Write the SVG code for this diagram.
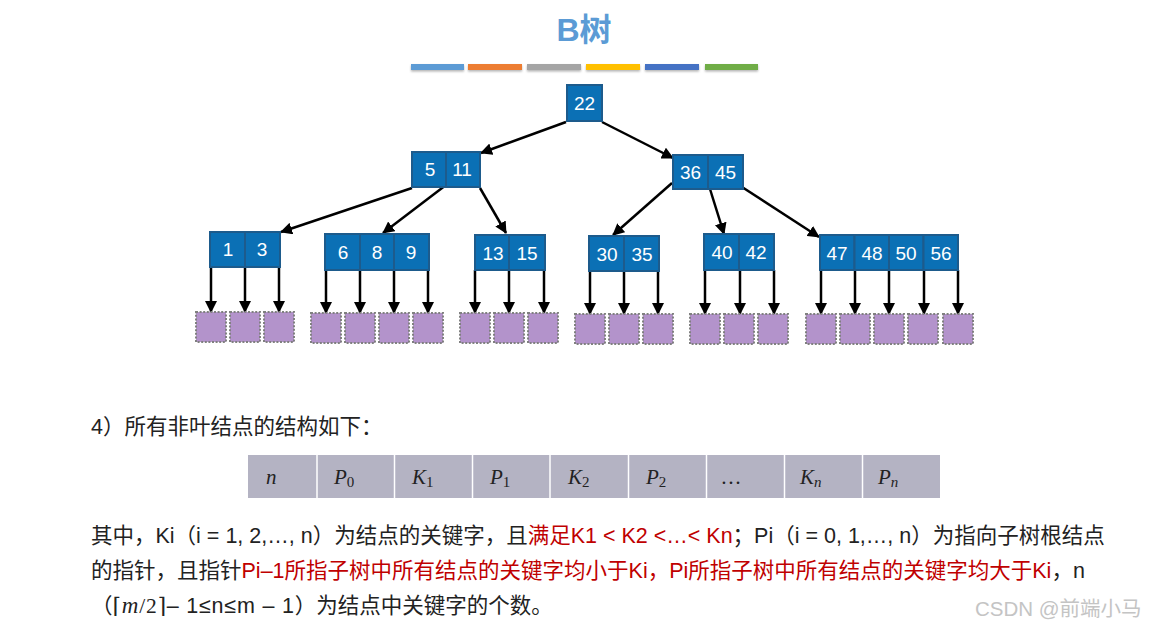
<svg xmlns="http://www.w3.org/2000/svg" width="1151" height="630" viewBox="0 0 1151 630">
<style>
.k{fill:#0b70b5;stroke:#1d5b8c;stroke-width:2}
.kt{font-family:"Liberation Sans",Arial,sans-serif;font-size:19px;fill:#fff;text-anchor:middle}
.leaf{fill:#b393cb;stroke:#808080;stroke-width:2;stroke-dasharray:2 1.6}
.e{stroke:#000;stroke-width:2.5;fill:none;marker-end:url(#ah)}
.body{font-family:"Liberation Sans","Noto Sans CJK SC",sans-serif;font-size:21.5px;fill:#222}
.red{fill:#c00000}
.cell{fill:#b4b3c3}
.sep{stroke:#fff;stroke-width:1.5}
.mt{font-family:"Liberation Serif","Times New Roman",serif;font-style:italic;font-size:21px;fill:#222}
.sub{font-style:normal;font-size:15px}
.subi{font-size:15px}
</style>
<defs>
<marker id="ah" markerUnits="userSpaceOnUse" markerWidth="12" markerHeight="12" viewBox="0 0 12 12" refX="11" refY="6" orient="auto">
<path d="M0,0 L12,6 L0,12 z" fill="#000"/>
</marker>
<filter id="sh" x="-5%" y="-50%" width="110%" height="250%">
<feDropShadow dx="0" dy="1.5" stdDeviation="1" flood-color="#000" flood-opacity="0.3"/>
</filter>
</defs>
<rect width="1151" height="630" fill="#fff"/>

<g id="title">
<text x="584" y="41" text-anchor="middle" font-family="Liberation Sans,'Noto Sans CJK SC',sans-serif" font-weight="bold" font-size="32" fill="#5b9bd5">B树</text>
<g filter="url(#sh)">
<rect x="411" y="64" width="53" height="6" fill="#5b9bd5"/>
<rect x="468" y="64" width="54" height="6" fill="#ed7d31"/>
<rect x="527" y="64" width="54" height="6" fill="#a5a5a5"/>
<rect x="586" y="64" width="54" height="6" fill="#ffc000"/>
<rect x="645" y="64" width="54" height="6" fill="#4472c4"/>
<rect x="705" y="64" width="53" height="6" fill="#70ad47"/>
</g>
</g>

<g id="connectors">
<line class="e" x1="566" y1="122" x2="481" y2="153"/>
<line class="e" x1="602" y1="122" x2="673" y2="158"/>
<line class="e" x1="412" y1="188" x2="281" y2="232"/>
<line class="e" x1="446" y1="185" x2="383" y2="233"/>
<line class="e" x1="480" y1="188" x2="506" y2="233"/>
<line class="e" x1="672" y1="183" x2="613" y2="235"/>
<line class="e" x1="710" y1="189" x2="724" y2="234"/>
<line class="e" x1="742" y1="187" x2="819" y2="237"/>
<line class="e" x1="211" y1="267" x2="211" y2="312"/>
<line class="e" x1="245" y1="267" x2="245" y2="312"/>
<line class="e" x1="279" y1="267" x2="279" y2="312"/>
<line class="e" x1="326" y1="270" x2="326" y2="313"/>
<line class="e" x1="360" y1="270" x2="360" y2="313"/>
<line class="e" x1="394" y1="270" x2="394" y2="313"/>
<line class="e" x1="428" y1="270" x2="428" y2="313"/>
<line class="e" x1="475" y1="270" x2="475" y2="313"/>
<line class="e" x1="509" y1="270" x2="509" y2="313"/>
<line class="e" x1="544" y1="270" x2="544" y2="313"/>
<line class="e" x1="590" y1="271" x2="590" y2="314"/>
<line class="e" x1="624" y1="271" x2="624" y2="314"/>
<line class="e" x1="658" y1="271" x2="658" y2="314"/>
<line class="e" x1="705" y1="270" x2="705" y2="314"/>
<line class="e" x1="740" y1="270" x2="740" y2="314"/>
<line class="e" x1="774" y1="270" x2="774" y2="314"/>
<line class="e" x1="821" y1="270" x2="821" y2="314"/>
<line class="e" x1="855" y1="270" x2="855" y2="314"/>
<line class="e" x1="889" y1="270" x2="889" y2="314"/>
<line class="e" x1="924" y1="270" x2="924" y2="314"/>
<line class="e" x1="958" y1="270" x2="958" y2="314"/>
</g>

<g id="n22">
<rect class="k" x="567" y="85" width="35" height="36"/>
<text class="kt" x="584.5" y="110">22</text>
</g>
<g id="n5-11">
<rect class="k" x="412" y="152" width="34" height="35"/>
<rect class="k" x="446" y="152" width="34" height="35"/>
<text class="kt" x="430" y="176">5</text>
<text class="kt" x="462" y="176">11</text>
</g>
<g id="n36-45">
<rect class="k" x="673" y="155" width="35" height="34"/>
<rect class="k" x="708" y="155" width="35" height="34"/>
<text class="kt" x="690.5" y="179">36</text>
<text class="kt" x="725.5" y="179">45</text>
</g>
<g id="n1-3">
<rect class="k" x="210" y="232" width="35" height="35"/>
<rect class="k" x="245" y="232" width="35" height="35"/>
<text class="kt" x="228" y="256">1</text>
<text class="kt" x="262" y="256">3</text>
</g>
<g id="n6-8-9">
<rect class="k" x="325" y="234" width="35" height="36"/>
<rect class="k" x="360" y="234" width="34" height="36"/>
<rect class="k" x="394" y="234" width="35" height="36"/>
<text class="kt" x="343" y="259">6</text>
<text class="kt" x="377" y="259">8</text>
<text class="kt" x="411" y="259">9</text>
</g>
<g id="n13-15">
<rect class="k" x="475" y="235" width="34" height="35"/>
<rect class="k" x="509" y="235" width="36" height="35"/>
<text class="kt" x="493" y="260">13</text>
<text class="kt" x="527" y="260">15</text>
</g>
<g id="n30-35">
<rect class="k" x="589" y="236" width="35" height="35"/>
<rect class="k" x="624" y="236" width="35" height="35"/>
<text class="kt" x="607" y="261">30</text>
<text class="kt" x="642" y="261">35</text>
</g>
<g id="n40-42">
<rect class="k" x="704" y="234" width="35" height="36"/>
<rect class="k" x="739" y="234" width="35" height="36"/>
<text class="kt" x="722" y="259">40</text>
<text class="kt" x="756" y="259">42</text>
</g>
<g id="n47-56">
<rect class="k" x="820" y="235" width="34.5" height="35"/>
<rect class="k" x="854.5" y="235" width="34.5" height="35"/>
<rect class="k" x="889" y="235" width="34.5" height="35"/>
<rect class="k" x="923.5" y="235" width="34.5" height="35"/>
<text class="kt" x="837" y="260">47</text>
<text class="kt" x="872" y="260">48</text>
<text class="kt" x="906" y="260">50</text>
<text class="kt" x="941" y="260">56</text>
</g>

<g id="leaves">
<rect class="leaf" x="196" y="312" width="30" height="30"/>
<rect class="leaf" x="230" y="312" width="30" height="30"/>
<rect class="leaf" x="264" y="312" width="30" height="30"/>
<rect class="leaf" x="311" y="313" width="30" height="30"/>
<rect class="leaf" x="345" y="313" width="30" height="30"/>
<rect class="leaf" x="379" y="313" width="30" height="30"/>
<rect class="leaf" x="413" y="313" width="30" height="30"/>
<rect class="leaf" x="460" y="313" width="30" height="30"/>
<rect class="leaf" x="494" y="313" width="30" height="30"/>
<rect class="leaf" x="528" y="313" width="30" height="30"/>
<rect class="leaf" x="575" y="314" width="30" height="30"/>
<rect class="leaf" x="609" y="314" width="30" height="30"/>
<rect class="leaf" x="643" y="314" width="30" height="30"/>
<rect class="leaf" x="690" y="314" width="30" height="30"/>
<rect class="leaf" x="724" y="314" width="30" height="30"/>
<rect class="leaf" x="758" y="314" width="30" height="30"/>
<rect class="leaf" x="806" y="314" width="30" height="30"/>
<rect class="leaf" x="840" y="314" width="30" height="30"/>
<rect class="leaf" x="874" y="314" width="30" height="30"/>
<rect class="leaf" x="908" y="314" width="30" height="30"/>
<rect class="leaf" x="943" y="314" width="30" height="30"/>
</g>

<g id="heading">
<text class="body" x="91" y="434">4）所有非叶结点的结构如下：</text>
</g>

<g id="table">
<rect class="cell" x="248" y="455" width="692" height="43"/>
<line class="sep" x1="317" y1="455" x2="317" y2="498"/>
<line class="sep" x1="394.5" y1="455" x2="394.5" y2="498"/>
<line class="sep" x1="472.5" y1="455" x2="472.5" y2="498"/>
<line class="sep" x1="550" y1="455" x2="550" y2="498"/>
<line class="sep" x1="628.5" y1="455" x2="628.5" y2="498"/>
<line class="sep" x1="706.5" y1="455" x2="706.5" y2="498"/>
<line class="sep" x1="784.5" y1="455" x2="784.5" y2="498"/>
<line class="sep" x1="862.5" y1="455" x2="862.5" y2="498"/>
<text class="mt" x="266" y="484">n</text>
<text class="mt" x="334" y="484">P<tspan class="sub" dy="3">0</tspan></text>
<text class="mt" x="412" y="484">K<tspan class="sub" dy="3">1</tspan></text>
<text class="mt" x="490" y="484">P<tspan class="sub" dy="3">1</tspan></text>
<text class="mt" x="568" y="484">K<tspan class="sub" dy="3">2</tspan></text>
<text class="mt" x="646" y="484">P<tspan class="sub" dy="3">2</tspan></text>
<text class="mt" x="722" y="484" font-style="normal">…</text>
<text class="mt" x="800" y="484">K<tspan class="subi" dy="3">n</tspan></text>
<text class="mt" x="878" y="484">P<tspan class="subi" dy="3">n</tspan></text>
</g>

<g id="description">
<text class="body" x="91" y="543">其中，Ki（i = 1, 2,…, n）为结点的关键字，且<tspan class="red">满足K1 &lt; K2 &lt;…&lt; Kn</tspan>；Pi（i = 0, 1,…, n）为指向子树根结点</text>
<text class="body" x="91" y="578">的指针，且指针<tspan class="red">Pi–1所指子树中所有结点的关键字均小于Ki，Pi所指子树中所有结点的关键字均大于Ki</tspan>，n</text>
<text class="body" x="91" y="613">（<tspan letter-spacing="0.8"><tspan font-family="DejaVu Serif,serif">⌈</tspan><tspan font-family="Liberation Serif,serif" font-style="italic" font-size="23">m</tspan><tspan font-family="Liberation Serif,serif">/2</tspan><tspan font-family="DejaVu Serif,serif">⌉</tspan>– 1≤n≤m  – 1</tspan>）为结点中关键字的个数。</text>
</g>

<g id="watermark">
<text x="975" y="616" font-family="Liberation Sans,'Noto Sans CJK SC',sans-serif" font-size="20.5" fill="#c4c4c4">CSDN @前端小马</text>
</g>
</svg>
